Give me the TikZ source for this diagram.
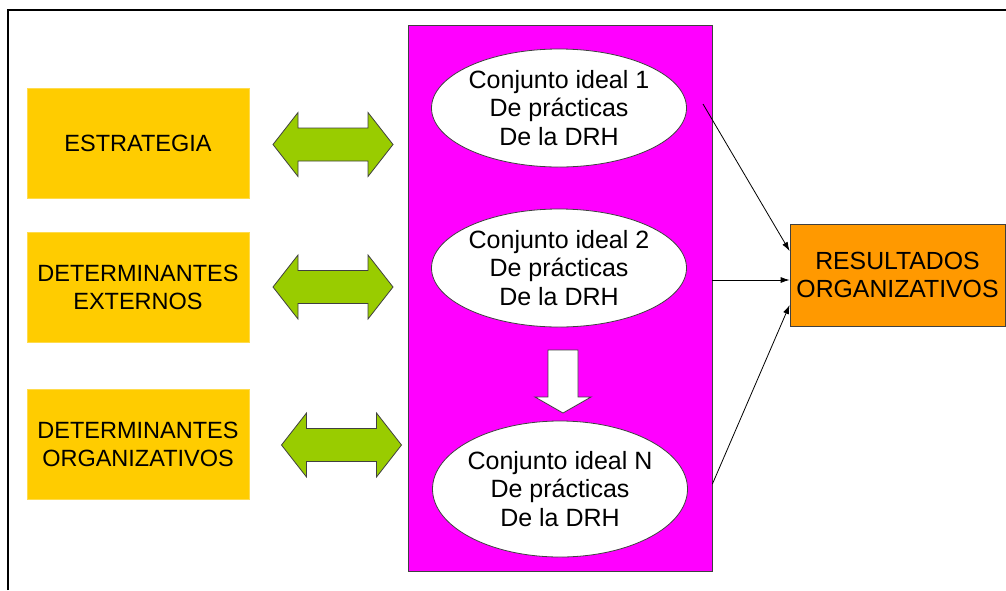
\documentclass[tikz,border=0pt]{standalone}
\usepackage{fontspec}
\setmainfont{Liberation Sans}
\usetikzlibrary{shapes.geometric,arrows.meta,calc}

\definecolor{amarillo}{HTML}{FFCC00}
\definecolor{verde}{HTML}{99CC00}
\definecolor{magenta}{HTML}{FF00FF}
\definecolor{naranja}{HTML}{FF9900}
\definecolor{borde}{HTML}{404040}

\tikzset{
  factor/.style={rectangle, fill=amarillo, draw=amarillo!70!white, line width=0.4pt,
    minimum width=222, minimum height=110, inner sep=0, align=center,
    font=\fontsize{23.5}{28}\selectfont},
  bloque/.style={rectangle, fill=magenta, draw=borde, line width=0.8pt,
    minimum width=304, minimum height=546},
  conjunto/.style={ellipse, fill=white, draw=borde, line width=0.8pt,
    minimum width=255, minimum height=118, inner ysep=0, inner xsep=-6pt, align=center,
    font=\fontsize{25}{28.5}\selectfont},
  resultado/.style={rectangle, fill=naranja, draw=borde, line width=0.8pt,
    minimum width=215, minimum height=102, inner sep=0, align=center,
    font=\fontsize{24.8}{28}\selectfont},
  greenarrow/.style={fill=verde, draw=borde, line width=0.8pt, line join=miter},
  downarrow/.style={fill=white, draw=borde, line width=0.8pt, line join=miter},
  conn/.style={draw=black, line width=0.8pt, -{Latex[length=9pt,width=6pt]}},
  dblarr/.pic={
    \draw[greenarrow] (-60,0) -- (-35,-32) -- (-35,-16.5) -- (35,-16.5) -- (35,-32)
      -- (60,0) -- (35,32) -- (35,16.5) -- (-35,16.5) -- (-35,32) -- cycle;
  },
  bajar/.pic={
    \draw[downarrow] (-15,-63) -- (15,-63) -- (15,-16) -- (28,-16) -- (0,0)
      -- (-28,-16) -- (-15,-16) -- cycle;
  }
}

\begin{document}
\begin{tikzpicture}[x=1pt, y=-1pt]
  \useasboundingbox (0,0) rectangle (1006,590);
  \fill[white] (0,0) rectangle (1006,590);

  % open frame: top and left rules
  \draw[black, line width=1.6pt] (8,590) -- (8,10) -- (1006,10);

  % left column of determinants
  \node[factor] (estr) at (138,143.5) {ESTRATEGIA};
  \node[factor] (ext)  at (138,287)   {DETERMINANTES\\EXTERNOS};
  \node[factor] (org)  at (138,444)   {DETERMINANTES\\ORGANIZATIVOS};

  % two-way arrows between determinants and practice bundles
  \pic at (333,144.5) {dblarr};
  \pic at (333,287)   {dblarr};
  \pic at (341.5,445) {dblarr};

  % block holding the ideal sets of HRM practices
  \node[bloque] (bloque) at (560,298) {};
  \node[conjunto] (c1) at (559,108) {Conjunto ideal 1\\De prácticas\\ De la DRH};
  \node[conjunto] (c2) at (559,268) {Conjunto ideal 2\\De prácticas\\ De la DRH};
  \node[conjunto, minimum height=136] (cn) at (560,489) {Conjunto ideal N\\De prácticas\\ De la DRH};
  \pic at (563,413) {bajar};

  % organisational outcomes
  \node[resultado] (res) at (897.5,275) {RESULTADOS\\ORGANIZATIVOS};

  % links towards the outcomes
  \coordinate (s1) at (703,104);
  \coordinate (s2) at ($(bloque.east)+(0,-18)$);
  \coordinate (s3) at ($(bloque.east)+(0,186)$);
  \coordinate (t1) at ($(res.west)+(0,-24)$);
  \coordinate (t2) at ($(res.west)+(0,5)$);
  \coordinate (t3) at ($(res.west)+(0,30)$);
  \draw[conn] (s1) -- (t1);
  \draw[conn] (s2) -- (t2);
  \draw[conn] (s3) -- (t3);
\end{tikzpicture}
\end{document}
